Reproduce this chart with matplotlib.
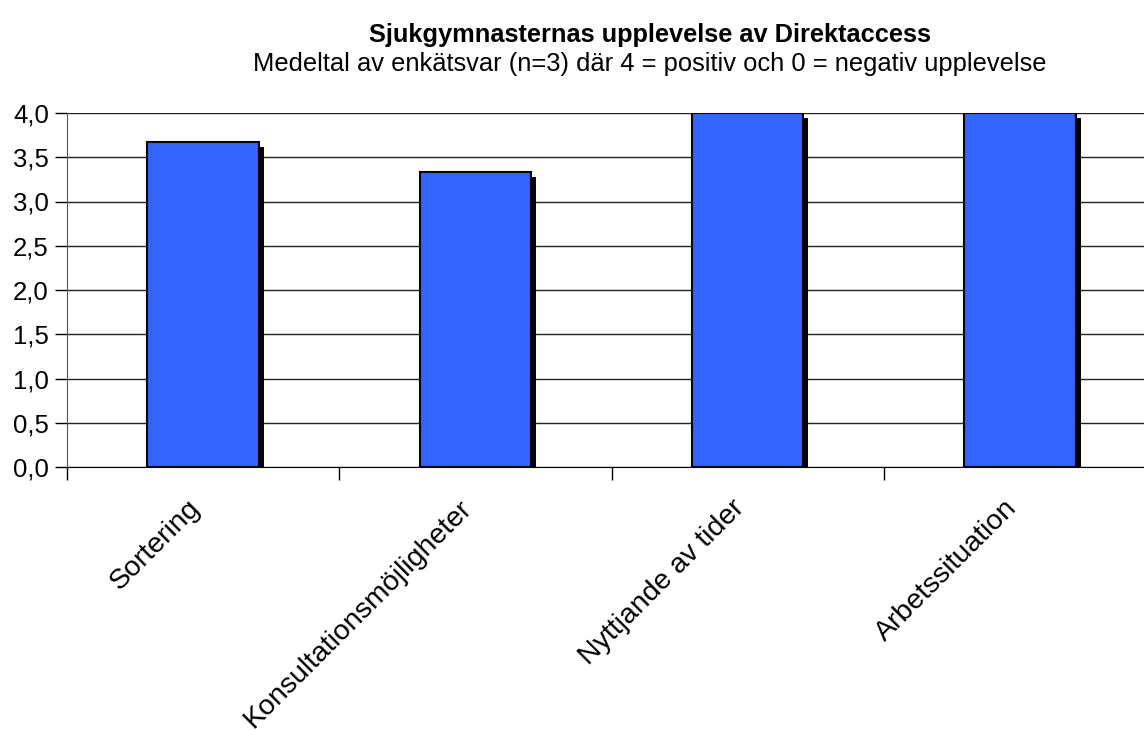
import matplotlib.pyplot as plt
from matplotlib.ticker import FuncFormatter

plt.rcParams['font.family'] = ['Liberation Sans', 'DejaVu Sans']

# Data
categories = ['Sortering', 'Konsultationsmöjligheter', 'Nyttjande av tider', 'Arbetssituation']
values = [3.67, 3.33, 4.0, 4.0]
yticks = [0.0, 0.5, 1.0, 1.5, 2.0, 2.5, 3.0, 3.5, 4.0]

W, H = 1144, 731
fig = plt.figure(figsize=(W / 100, H / 100), dpi=100)
# axes box in pixels: left 67, right 1156 (runs off the image), top 113, bottom 467
ax = fig.add_axes([67 / W, 1 - 467 / H, (1156 - 67) / W, (467 - 113) / H])

x = list(range(len(categories)))
bw = 0.41
# drop shadow: a few pixels to the right and below the top
dx = 5 / 272
dy = 5 / 88.5
ax.bar([i + dx for i in x], [v - dy for v in values], width=bw, color='black',
       zorder=2, linewidth=0)
ax.bar(x, values, width=bw, color='#3366FF', edgecolor='black', linewidth=1.5, zorder=3)

ax.set_xlim(-0.5, len(categories) - 0.5)
ax.set_ylim(0, 4.0)
ax.set_yticks(yticks)
ax.yaxis.set_major_formatter(FuncFormatter(lambda v, p: f'{v:.1f}'.replace('.', ',')))
ax.tick_params(axis='y', labelsize=18.5, length=9, width=1, direction='out', pad=4)
ax.yaxis.grid(True, color='#222222', linewidth=1)
ax.set_axisbelow(True)

# x ticks between categories, labels rotated at category centers
ax.set_xticks([i + 0.5 for i in x[:-1]] + [-0.5])
ax.set_xticklabels([])
ax.tick_params(axis='x', length=9, width=1, direction='out')
for i, c in enumerate(categories):
    ax.text(i - 0.06, -0.32, c, rotation=45, ha='right', va='top',
            rotation_mode='anchor', fontsize=20.5)

for s in ['top', 'right']:
    ax.spines[s].set_visible(False)
ax.spines['left'].set_color('#555555')
ax.spines['bottom'].set_color('black')

fig.text(650 / W, 1 - 35 / H, 'Sjukgymnasternas upplevelse av Direktaccess',
         ha='center', va='center', fontsize=18.3, fontweight='bold')
fig.text(650 / W, 1 - 64 / H,
         'Medeltal av enkätsvar (n=3) där 4 = positiv och 0 = negativ upplevelse',
         ha='center', va='center', fontsize=18.4)

fig.savefig('out.png', dpi=100)
